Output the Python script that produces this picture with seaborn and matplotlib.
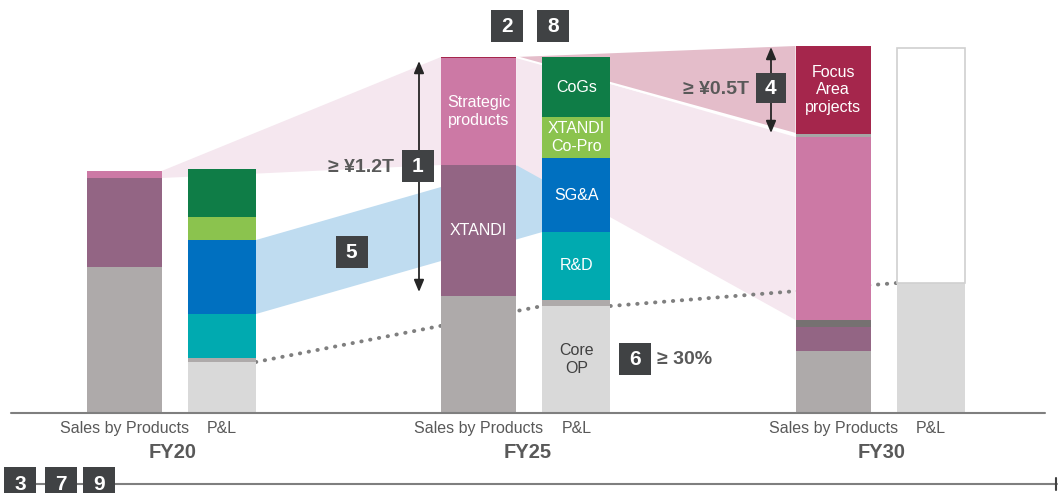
import matplotlib
matplotlib.use("Agg")
import numpy as np
import matplotlib.pyplot as plt
import seaborn as sns
from matplotlib.patches import Rectangle

# values in JPY bn
fiscal_years = ["FY20", "FY25", "FY30"]
bar_kinds = ["Sales by Products", "P&L"]

sales_segments = ["Base", "XTANDI", "Other", "Strategic\nproducts", "Gap", "Focus\nArea\nprojects"]
sales_fy20 = [730, 445, 0, 35, 0, 0]
sales_fy25 = [585, 655, 0, 535, 0, 5]
sales_fy30 = [310, 120, 35, 915, 15, 440]

pl_segments = ["Core\nOP", "Gap", "R&D", "SG&A", "XTANDI\nCo-Pro", "CoGs", "Open"]
pl_fy20 = [255, 20, 220, 370, 115, 240, 0]
pl_fy25 = [535, 30, 340, 370, 205, 300, 0]
pl_fy30 = [650, 0, 0, 0, 0, 0, 1175]

sales_colors = ["#aeaaaa", "#936584", "#767171", "#cc79a5", "#a6a6a6", "#a5264c"]
pl_colors = ["#d9d9d9", "#aeaaaa", "#00aab0", "#0070c0", "#8bc34e", "#0f7d47", "white"]

TXT = "#595959"
BOX = "#404244"

sns.set_theme(style="white")
plt.rcParams["font.family"] = ["Liberation Sans", "DejaVu Sans"]

fig = plt.figure(figsize=(10.58, 4.93), dpi=100)
ax = fig.add_axes([0, 80 / 493, 1, 413 / 493])

# layout (x in group units, y in JPY bn)
PX = 354.5          # pixels per group
X0 = 173            # pixel of FY20 group centre
off = 0.138
w_sales = 0.212
w_pl = 0.192


def at(xp, yp):
    # pixel position of an annotation -> data coords
    return (xp - X0) / PX, (413 - yp) * 5


sales = [np.array(sales_fy20), np.array(sales_fy25), np.array(sales_fy30)]
pls = [np.array(pl_fy20), np.array(pl_fy25), np.array(pl_fy30)]
sales_cum = [np.concatenate([[0], np.cumsum(s)]) for s in sales]
pl_cum = [np.concatenate([[0], np.cumsum(p)]) for p in pls]

# stacked bars
for g in range(3):
    xs = g - off
    xp = g + off
    for i, v in enumerate(sales[g]):
        if v > 0:
            ax.bar(xs, v, bottom=sales_cum[g][i], width=w_sales,
                   color=sales_colors[i], lw=0, zorder=3)
    for i, v in enumerate(pls[g]):
        if v > 0:
            if pl_segments[i] == "Open":
                ax.bar(xp, v, bottom=pl_cum[g][i], width=w_pl, color="white",
                       edgecolor="#d0d0d0", lw=1.2, zorder=3)
            else:
                ax.bar(xp, v, bottom=pl_cum[g][i], width=w_pl,
                       color=pl_colors[i], lw=0, zorder=3)


def s_left(g):
    return g - off - w_sales / 2


def s_right(g):
    return g - off + w_sales / 2


def p_left(g):
    return g + off - w_pl / 2


def p_right(g):
    return g + off + w_pl / 2


# connecting bands
ax.fill([s_right(0), s_left(1), s_left(1), s_right(0)],
        [sales_cum[0][-1], sales_cum[1][-1], sales_cum[1][3], sales_cum[0][3]],
        color="#f5e7ef", lw=0, zorder=1)
ax.fill([p_right(0), p_left(1), p_left(1), p_right(0)],
        [pl_cum[0][4], pl_cum[1][4], pl_cum[1][3], pl_cum[0][3]],
        color="#bfdcf0", lw=0, zorder=1)
ax.fill([s_right(1), s_left(2), s_left(2), s_right(1)],
        [sales_cum[1][-1], sales_cum[2][4], sales_cum[2][3], sales_cum[1][3]],
        color="#f5e7ef", lw=0, zorder=1)
ax.fill([s_right(1), s_left(2), s_left(2)],
        [sales_cum[1][-1], sales_cum[2][-1], sales_cum[2][5]],
        color="#e4bdca", lw=0, zorder=1.2)
ax.plot([s_right(1), s_left(2)], [sales_cum[1][-1], sales_cum[2][5]],
        color="white", lw=1.5, zorder=1.3)

# core OP dotted trend
for a, b in [(0, 1), (1, 2)]:
    ax.plot([p_right(a), p_left(b)], [pl_cum[a][1], pl_cum[b][1]],
            color="#7f7f7f", lw=2.8, linestyle=(0, (0.1, 2.2)),
            dash_capstyle="round", zorder=1.5)

# labels inside bars
for i in [1, 3]:
    ax.text(1 - off, (sales_cum[1][i] + sales_cum[1][i + 1]) / 2, sales_segments[i],
            color="white", fontsize=11.5, ha="center", va="center", zorder=4,
            linespacing=1.2)
ax.text(2 - off, (sales_cum[2][5] + sales_cum[2][6]) / 2, sales_segments[5],
        color="white", fontsize=11.5, ha="center", va="center", zorder=4,
        linespacing=1.2)
for i in [0, 2, 3, 4, 5]:
    ax.text(1 + off, (pl_cum[1][i] + pl_cum[1][i + 1]) / 2, pl_segments[i],
            color="#404040" if i == 0 else "white", fontsize=11.5,
            ha="center", va="center", zorder=4, linespacing=1.2)

# axis line and tick labels
ax.plot([at(11, 0)[0], at(1045, 0)[0]], [0, 0], color="#7f7f7f", lw=1.5,
        zorder=5, clip_on=False)
ticks = []
tick_labels = []
for g in range(3):
    ticks += [g - off, g + off]
    tick_labels += bar_kinds
ax.set_xticks(ticks)
ax.set_xticklabels(tick_labels, color=TXT, fontsize=11.5)
ax.tick_params(axis="x", length=0, pad=6)
ax.set_yticks([])
for g, fy in enumerate(fiscal_years):
    ax.text(g, at(0, 453)[1], fy, color=TXT, fontsize=14.5, fontweight="bold",
            ha="center", va="center", clip_on=False)

ax.set_xlim(-X0 / PX, (1058 - X0) / PX)
ax.set_ylim(0, 413 * 5)
for sp in ax.spines.values():
    sp.set_visible(False)

# arrows
arrow = dict(arrowstyle="<|-|>,head_length=0.6,head_width=0.25", color="#262626",
             lw=1.3, shrinkA=0, shrinkB=0)
xa = at(419, 0)[0]
ax.annotate("", xy=(xa, sales_cum[1][1] + 20), xytext=(xa, sales_cum[1][-1] - 20),
            arrowprops=arrow, zorder=4)
xa = at(771, 0)[0]
ax.annotate("", xy=(xa, sales_cum[2][5] + 5), xytext=(xa, sales_cum[2][-1] - 5),
            arrowprops=arrow, zorder=4)


def num_box(xp, yp, label, size=32):
    x, y = at(xp - size / 2, yp + size / 2)
    ax.add_patch(Rectangle((x, y), size / PX, size * 5, fc=BOX, ec="none",
                           zorder=6, clip_on=False))
    ax.text(*at(xp, yp + 1), label, color="white", fontsize=15, fontweight="bold",
            ha="center", va="center", zorder=7, clip_on=False)


num_box(507, 25.5, "2")
num_box(553, 25.5, "8")
num_box(417.5, 165.5, "1")
num_box(351.5, 251.5, "5")
num_box(770.5, 87.5, "4", size=30)
num_box(635, 358.5, "6")

ax.text(*at(394, 167), "≥ ¥1.2T", color=TXT, fontsize=14, fontweight="bold",
        ha="right", va="center", zorder=4)
ax.text(*at(749, 89), "≥ ¥0.5T", color=TXT, fontsize=14, fontweight="bold",
        ha="right", va="center", zorder=4)
ax.text(*at(657, 359), "≥ 30%", color=TXT, fontsize=14, fontweight="bold",
        ha="left", va="center", zorder=4)

# bottom timeline
yl = at(0, 484)[1]
ax.plot([at(20, 0)[0], at(1057, 0)[0]], [yl, yl], color="#7f7f7f", lw=1.5,
        clip_on=False, zorder=5)
ax.plot([at(1056, 0)[0]] * 2, [at(0, 478)[1], at(0, 490)[1]], color="#404040",
        lw=1.5, clip_on=False, zorder=5)
num_box(20, 483, "3")
num_box(61, 483, "7")
num_box(99, 483, "9")

fig.savefig("out.png", dpi=100)
